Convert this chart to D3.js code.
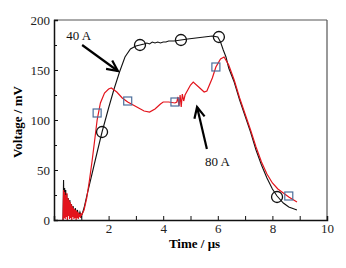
<!DOCTYPE html>
<html><head><meta charset="utf-8">
<script src="https://cdn.jsdelivr.net/npm/d3@7"></script>
<style>body{margin:0;background:#fff}svg{display:block}svg text{font-family:"Liberation Serif","DejaVu Serif",serif !important}</style>
</head><body><svg id="c" width="346" height="268"></svg>
<script>
// 40 A (black) trace
const blackT = [0.33,0.35,0.37,0.39,0.41,0.43,0.45,0.47,0.49,0.52,0.55,0.58,0.61,0.64,0.67,0.70,0.74,0.78,0.82,0.86,0.90,0.95,1.00,1.10,1.20,1.40,1.60,1.76,2.00,2.20,2.40,2.60,2.80,3.00,3.15,3.30,3.40,3.50,3.60,3.70,3.80,3.90,4.00,4.10,4.20,4.40,4.65,4.90,5.20,5.50,5.80,6.00,6.10,6.20,6.30,6.40,6.60,6.80,7.00,7.20,7.40,7.60,7.80,8.00,8.17,8.40,8.60,8.90];
const blackV = [0,40,5,32,8,30,4,26,10,22,6,20,5,16,8,14,4,12,6,10,3,8,3,12,24,47,70,88,112,131,148,163,171,174,175,176,177,176,178,177,178,177,178,178,179,179,180,181,182,183,184,183,178,170,163,152,138,120,104,88,70,55,42,31,24,17,13,10];
// 80 A (red) trace
const redT = [0.33,0.35,0.37,0.39,0.41,0.43,0.45,0.47,0.49,0.51,0.53,0.55,0.57,0.59,0.61,0.63,0.65,0.67,0.69,0.71,0.73,0.75,0.77,0.79,0.81,0.83,0.85,0.87,0.89,0.91,0.93,0.95,0.97,0.99,1.01,1.05,1.10,1.20,1.30,1.40,1.50,1.58,1.70,1.85,2.00,2.10,2.30,2.50,2.70,2.90,3.10,3.30,3.50,3.70,3.90,4.00,4.20,4.43,4.50,4.54,4.58,4.62,4.66,4.70,4.75,4.80,5.00,5.10,5.30,5.50,5.60,5.80,5.93,6.10,6.23,6.40,6.60,6.80,7.00,7.20,7.40,7.60,7.80,8.00,8.20,8.40,8.60,8.90];
const redV = [0,30,2,28,1,25,3,27,0,22,4,20,1,18,2,16,0,14,3,12,1,11,2,10,0,9,2,8,1,7,3,6,2,6,5,7,10,22,40,60,82,100,117,127,131,132,128,122,118,115,112,109,108,111,116,118,118,117,118,123,114,125,113,126,119,125,135,138,133,128,129,142,153,161,163,155,140,122,106,90,73,58,46,37,31,27,23,18];
// markers
const circT = [1.76,3.15,4.65,6.04,8.17];
const circV = [88,175,180,183,23];
const sqT = [1.58,2.70,4.43,5.93,8.60];
const sqV = [107,119,118,153,24];
// ticks
const xTicks = [2,4,6,8,10];
const yTicks = [0,50,100,150,200];
// annotations
const annLabels = ["40 A","80 A"];
const annText = [[0.45,180],[5.99,54]];
const annTail = [[1.03,175],[5.60,71]];
const annTip = [[2.34,149],[5.24,113]];

const svg = d3.select("#c");
const L=54,R=327,T=20,B=220;
const x = d3.scaleLinear().domain([0,10]).range([L,R]);
const y = d3.scaleLinear().domain([0,200]).range([B,T]);

svg.append("line").attr("x1",L).attr("x2",R).attr("y1",T).attr("y2",T).attr("stroke","#555").attr("stroke-width",1);
svg.append("line").attr("x1",R).attr("x2",R).attr("y1",T).attr("y2",B).attr("stroke","#555").attr("stroke-width",1.2);

const line = d3.line().x(d=>x(d[0])).y(d=>y(d[1]));
const bl = blackT.map((t,i)=>[t,blackV[i]]);
const rl = redT.map((t,i)=>[t,redV[i]]);
svg.append("path").attr("d",line(bl)).attr("fill","none").attr("stroke","#111").attr("stroke-width",1.1);
svg.append("path").attr("d",line(rl)).attr("fill","none").attr("stroke","#e3141c").attr("stroke-width",1.2);

svg.selectAll(".circ").data(circT).enter().append("circle")
 .attr("cx",(d)=>x(d)).attr("cy",(d,i)=>y(circV[i])).attr("r",5.5)
 .attr("fill","none").attr("stroke","#111").attr("stroke-width",1.3);
svg.selectAll(".sq").data(sqT).enter().append("rect")
 .attr("x",d=>x(d)-4).attr("y",(d,i)=>y(sqV[i])-4).attr("width",8).attr("height",8)
 .attr("fill","none").attr("stroke","#4d6f9c").attr("stroke-width",1.2);

const xAx = d3.axisBottom(x).tickValues(d3.range(1,11)).tickSize(-4).tickPadding(4).tickFormat(d=>xTicks.includes(d)?d:"");
const gx = svg.append("g").attr("transform",`translate(0,${B})`).call(xAx).attr("font-size",13);
gx.select(".domain").attr("stroke","#111").attr("stroke-width",1.5);
gx.selectAll(".tick line").attr("stroke","#111");
gx.selectAll("text").attr("fill","#222");

const yAx = d3.axisLeft(y).tickValues(d3.range(0,201,25)).tickSize(-4).tickFormat(d=>yTicks.includes(d)?d:"");
const gy = svg.append("g").attr("transform",`translate(${L},0)`).call(yAx).attr("font-size",13);
gy.select(".domain").attr("stroke","#111").attr("stroke-width",1.5);
gy.selectAll(".tick line").attr("stroke","#111").attr("x2",(d)=>yTicks.includes(d)?4:3);
gy.selectAll("text").attr("fill","#222").attr("x",-4);

svg.append("text").attr("x",(L+R)/2+4).attr("y",248).attr("text-anchor","middle")
 .attr("font-size",13).attr("font-weight","bold").text("Time / μs");
svg.append("text").attr("transform","translate(22,122) rotate(-90)").attr("text-anchor","middle")
 .attr("font-size",13).attr("font-weight","bold").text("Voltage / mV");

annLabels.forEach((lab,i)=>{
  svg.append("text").attr("x",x(annText[i][0])).attr("y",y(annText[i][1]))
    .attr("text-anchor",i===0?"start":"middle").attr("font-size",13).attr("fill","#111").text(lab);
  const x1=x(annTail[i][0]),y1=y(annTail[i][1]),x2=x(annTip[i][0]),y2=y(annTip[i][1]);
  svg.append("line").attr("x1",x1).attr("y1",y1).attr("x2",x2).attr("y2",y2).attr("stroke","#000").attr("stroke-width",2.2);
  const a=Math.atan2(y1-y2,x1-x2), h=12, s=0.45;
  const p=[[x2+h*Math.cos(a+s),y2+h*Math.sin(a+s)],[x2,y2],[x2+h*Math.cos(a-s),y2+h*Math.sin(a-s)]];
  svg.append("path").attr("d",d3.line()(p)).attr("fill","none").attr("stroke","#000").attr("stroke-width",2.2);
});
</script></body></html>
